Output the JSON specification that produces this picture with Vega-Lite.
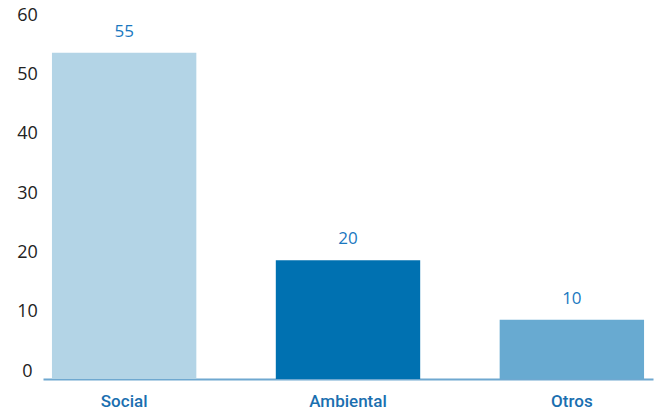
{
  "$schema": "https://vega.github.io/schema/vega-lite/v6.json",
  "autosize": {"type": "none"},
  "padding": {"left": 43, "top": 23, "right": 2, "bottom": 32},
  "width": 610,
  "height": 356,
  "background": "white",
  "config": {"view": {"stroke": null}, "font": "Open Sans"},
  "data": {"values": [
    {"categoria": "Social", "valor": 55},
    {"categoria": "Ambiental", "valor": 20},
    {"categoria": "Otros", "valor": 10}
  ]},
  "encoding": {
    "x": {
      "field": "categoria", "type": "nominal", "sort": null,
      "scale": {"paddingInner": 0.355, "paddingOuter": 0.04},
      "axis": {
        "title": null, "labelAngle": 0, "ticks": false,
        "domainColor": "#6fa8d0", "domainWidth": 2,
        "labelColor": "#1a6fb0", "labelFontSize": 17, "labelFontWeight": 500,
        "labelPadding": 14, "labelFont": "Roboto"
      }
    },
    "y": {
      "field": "valor", "type": "quantitative",
      "scale": {"domain": [0, 60]},
      "axis": {
        "title": null, "values": [0, 10, 20, 30, 40, 50, 60],
        "grid": false, "domain": false, "ticks": false,
        "labelColor": "#222222", "labelFontSize": 18, "labelFont": "Open Sans",
        "labelAlign": "center", "labelPadding": 16, "labelBaseline": "alphabetic",
        "labelOffset": -3
      }
    }
  },
  "layer": [
    {
      "mark": {"type": "bar"},
      "encoding": {
        "color": {
          "field": "categoria", "type": "nominal", "legend": null,
          "scale": {"domain": ["Social", "Ambiental", "Otros"], "range": ["#b3d4e6", "#0071b1", "#68aad1"]}
        }
      }
    },
    {
      "mark": {"type": "text", "dy": -21, "fontSize": 17, "color": "#1a78bf", "font": "Open Sans"},
      "encoding": {"text": {"field": "valor", "type": "quantitative"}}
    }
  ]
}
